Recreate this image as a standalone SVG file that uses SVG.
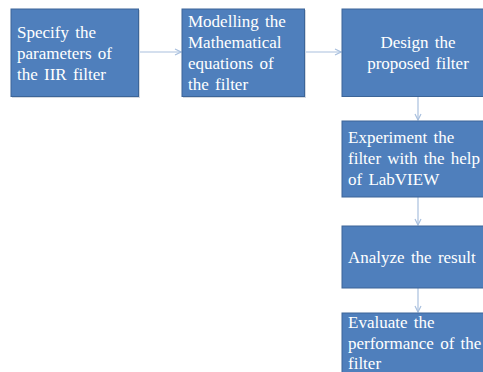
<svg xmlns="http://www.w3.org/2000/svg" width="483" height="372" viewBox="0 0 483 372">
<defs>
<style>
.box{fill:#4f7fbc;stroke:#3c6598;stroke-width:1}
.sh{fill:#d4d9e0}
.t{font-family:"Liberation Serif","Times New Roman",serif;font-size:17px;fill:#ffffff;word-spacing:2px}
.c{text-anchor:middle}
.conn{stroke:#a9c0de;stroke-width:1.2;fill:none;marker-end:url(#ah)}
</style>
<marker id="ah" viewBox="0 0 8 8" refX="7" refY="4" markerWidth="8" markerHeight="8" markerUnits="userSpaceOnUse" orient="auto">
<path d="M1,1 L7,4 L1,7" fill="none" stroke="#a9c0de" stroke-width="1.2"/>
</marker>
</defs>
<rect width="483" height="372" fill="#ffffff"/>
<g id="connectors">
<line class="conn" x1="139" y1="52" x2="181" y2="52"/>
<line class="conn" x1="305" y1="52" x2="341" y2="52"/>
<line class="conn" x1="418" y1="97" x2="418" y2="120"/>
<line class="conn" x1="418" y1="197" x2="418" y2="225"/>
<line class="conn" x1="418" y1="288" x2="418" y2="312"/>
</g>
<g id="n1">
<rect class="sh" x="12" y="10" width="128" height="88"/>
<rect class="box" x="11" y="9" width="127.5" height="87.5"/>
<text class="t" x="17" y="38">Specify the</text>
<text class="t" x="17" y="59">parameters of</text>
<text class="t" x="17" y="80">the IIR filter</text>
</g>
<g id="n2">
<rect class="sh" x="183" y="10" width="123" height="88"/>
<rect class="box" x="182" y="9" width="122.5" height="87.5"/>
<text class="t" x="188" y="27">Modelling the</text>
<text class="t" x="188" y="48">Mathematical</text>
<text class="t" x="188" y="69">equations of</text>
<text class="t" x="188" y="90">the filter</text>
</g>
<g id="n3">
<rect class="box" x="342" y="9" width="152" height="87.5"/>
<text class="t c" x="418" y="48">Design the</text>
<text class="t c" x="418" y="69">proposed filter</text>
</g>
<g id="n4">
<rect class="box" x="342" y="121" width="152" height="76"/>
<text class="t" x="348" y="143">Experiment the</text>
<text class="t" x="348" y="164">filter with the help</text>
<text class="t" x="348" y="185">of LabVIEW</text>
</g>
<g id="n5">
<rect class="box" x="342" y="226" width="152" height="62"/>
<text class="t" x="348" y="263">Analyze the result</text>
</g>
<g id="n6">
<rect class="box" x="342" y="313" width="152" height="70"/>
<text class="t" x="348" y="328">Evaluate the</text>
<text class="t" x="348" y="349">performance of the</text>
<text class="t" x="348" y="369">filter</text>
</g>
</svg>
